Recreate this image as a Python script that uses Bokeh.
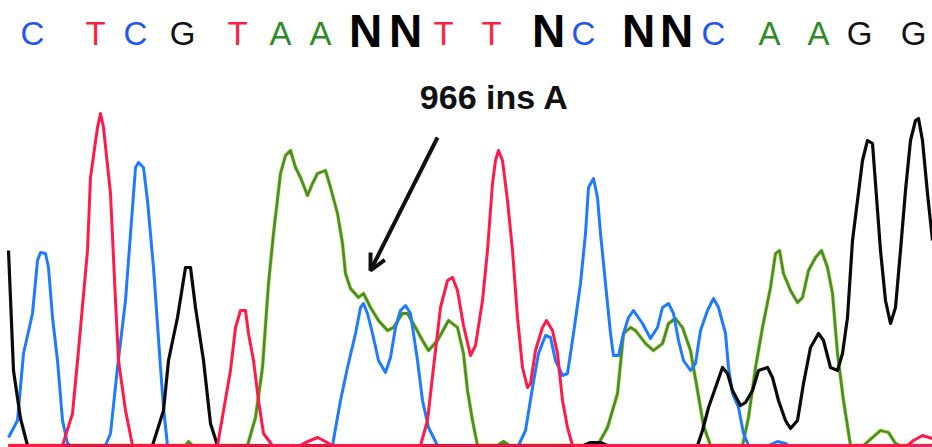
from bokeh.plotting import figure
from bokeh.models import Range1d, Arrow, OpenHead, ColumnDataSource, Label
from bokeh.core.properties import value
from bokeh.embed import file_html
from bokeh.resources import INLINE

# ---- base calls (top sequence) ----
seq_bases = ["C", "T", "C", "G", "T", "A", "A", "N", "N", "T",
             "T", "N", "C", "N", "N", "C", "A", "A", "G", "G"]
seq_pos = [32, 95, 135, 182, 237, 280, 320, 365, 405, 443,
           491, 548, 583, 638, 676, 713, 769, 818, 859, 913]

# ---- chromatogram traces (scan position, signal intensity) ----
blue_x = [8, 17, 23, 32, 37, 40, 45, 48, 52, 57, 62, 67, 70, 105, 110, 117, 125, 132, 135, 138, 143, 147, 153, 160, 163, 167,
          332, 340, 347, 355, 360, 363, 367, 372, 378, 385, 390, 395, 400, 405, 410, 417, 422, 428, 437,
          518, 525, 532, 538, 545, 550, 555, 562, 567, 573, 580, 585, 588, 593, 597, 600, 605, 610, 613, 618, 623, 628, 633,
          642, 650, 657, 662, 668, 673, 678, 683, 690, 695, 700, 707, 713, 718, 725, 728, 732, 738, 743, 748,
          768, 777, 785, 788, 932]
blue_y = [8, 25, 92, 132, 185, 193, 192, 178, 128, 85, 25, 2, 0, 0, 12, 78, 145, 238, 278, 283, 278, 245, 178, 78, 38, 0,
          0, 45, 78, 112, 138, 142, 132, 112, 85, 73, 88, 118, 135, 140, 132, 85, 45, 18, 0,
          0, 15, 58, 92, 110, 108, 85, 70, 72, 112, 162, 212, 258, 267, 248, 212, 162, 112, 90, 90, 112, 128, 135,
          122, 107, 118, 138, 142, 132, 105, 85, 75, 82, 115, 135, 147, 138, 112, 78, 52, 38, 12, 0,
          0, 4, 2, 0, 0]

red_x = [8, 62, 72, 78, 87, 90, 97, 100, 103, 110, 115, 118, 125, 132,
         217, 230, 235, 240, 245, 248, 253, 258, 263, 272,
         300, 305, 317, 323, 332,
         420, 427, 433, 440, 447, 452, 457, 463, 470, 475, 482, 487, 492, 495, 498, 502, 507, 512, 517, 522, 527, 530,
         535, 542, 546, 552, 557, 562, 567, 572,
         907, 913, 922, 932]
red_y = [0, 0, 32, 95, 195, 268, 318, 332, 318, 252, 145, 85, 35, 0,
         0, 75, 118, 135, 135, 112, 85, 45, 12, 0,
         0, 3, 8, 5, 0,
         0, 25, 78, 138, 165, 168, 155, 120, 90, 100, 145, 195, 262, 285, 295, 285, 245, 195, 128, 78, 58, 62,
         95, 118, 125, 115, 92, 45, 18, 0,
         0, 5, 10, 7]

green_x = [8, 185, 188, 192,
           247, 255, 262, 268, 273, 280, 285, 290, 295, 300, 307, 312, 317, 325, 330, 337, 342, 345, 350, 358, 363, 370,
           378, 387, 393, 402, 407, 415, 422, 428, 437, 448, 457, 463, 467, 472, 477,
           497, 503, 509,
           597, 607, 617, 623, 630, 635, 645, 653, 662, 668, 675, 682, 690, 697, 703, 710,
           742, 748, 755, 762, 770, 775, 779, 783, 790, 797, 802, 808, 815, 821, 827, 832, 837, 843, 850,
           863, 872, 880, 888, 895, 900, 932]
green_y = [0, 0, 4, 0,
           0, 28, 78, 162, 212, 272, 290, 295, 278, 268, 250, 262, 272, 275, 258, 232, 202, 172, 157, 148, 152, 138,
           125, 115, 118, 132, 132, 118, 105, 95, 105, 125, 118, 92, 55, 25, 0,
           0, 4, 0,
           0, 18, 52, 112, 118, 115, 102, 95, 102, 122, 127, 118, 95, 55, 20, 0,
           0, 28, 78, 118, 158, 192, 195, 172, 155, 143, 148, 175, 188, 195, 178, 152, 92, 45, 0,
           0, 8, 15, 13, 2, 0, 0]

black_x = [8, 13, 20, 27,
           152, 163, 168, 177, 185, 190, 195, 203, 210, 217,
           583, 590, 600, 607,
           697, 702, 708, 715, 722, 727, 732, 740, 745, 752, 758, 767, 772, 778, 785, 790, 797, 803, 810, 818, 823, 830,
           837, 842, 847, 852, 857, 862, 867, 872, 875, 880, 885, 890, 895, 900, 905, 910, 915, 918, 922, 927, 932]
black_y = [195, 75, 27, 0,
           0, 35, 85, 128, 178, 178, 138, 85, 22, 0,
           0, 3, 3, 0,
           0, 15, 38, 58, 78, 72, 55, 40, 43, 55, 75, 78, 68, 45, 25, 17, 25, 62, 98, 112, 105, 78,
           75, 92, 128, 205, 245, 285, 305, 302, 262, 195, 145, 122, 138, 195, 255, 305, 325, 327, 305, 252, 205]

annotation_text = "966 ins A"
annotation_pos = (494, 349)
arrow_from = (437, 308)
arrow_to = (370, 175)

# ---- styling ----
base_colors = {"C": "#1f55f0", "T": "#ff2040", "G": "#111111", "A": "#2f8a2a", "N": "#000000"}
trace_blue = "#1e7bff"
trace_red = "#ff1a4a"
trace_green = "#46902c"
trace_black = "#0a0a0a"

p = figure(width=932, height=447, x_range=Range1d(0, 932), y_range=Range1d(-2, 445),
           output_backend="svg", toolbar_location=None, min_border=0,
           x_axis_type=None, y_axis_type=None)
p.grid.visible = False
p.outline_line_color = None
p.background_fill_color = "white"
p.border_fill_color = "white"

# traces
p.line(green_x, green_y, line_color="#d8d83a", line_width=4.4, line_alpha=0.55, line_join="round")
p.line(green_x, green_y, line_color=trace_green, line_width=2.8, line_join="round")
p.line(blue_x, blue_y, line_color=trace_blue, line_width=3.0, line_join="round")
p.line(black_x, black_y, line_color=trace_black, line_width=3.2, line_join="round")
p.line(red_x, red_y, line_color=trace_red, line_width=3.0, line_join="round")

# baseline
p.line([8, 932], [0, 0], line_color=trace_red, line_width=2.5)

# sequence letters
seq_src = ColumnDataSource(dict(
    x=seq_pos,
    y=[415 if b == "N" else 412 for b in seq_bases],
    t=seq_bases,
    c=[base_colors[b] for b in seq_bases],
    fs=["46px" if b == "N" else "33px" for b in seq_bases],
    fst=["bold" if b == "N" else "normal" for b in seq_bases],
))
p.text(x="x", y="y", text="t", text_color="c", text_font_size="fs", text_font_style="fst",
       text_align="center", text_baseline="alphabetic", text_font=value("Liberation Sans"),
       source=seq_src)

# annotation
p.add_layout(Label(x=annotation_pos[0], y=annotation_pos[1], text=annotation_text,
                   text_align="center", text_baseline="alphabetic", text_font="Liberation Sans",
                   text_font_size="34px", text_font_style="bold", text_color="#111111"))
p.add_layout(Arrow(end=OpenHead(size=16, line_width=4, line_color="#111111"),
                   x_start=arrow_from[0], y_start=arrow_from[1], x_end=arrow_to[0], y_end=arrow_to[1],
                   line_width=4, line_color="#111111"))

open("out.html", "w").write(file_html(p, INLINE))
